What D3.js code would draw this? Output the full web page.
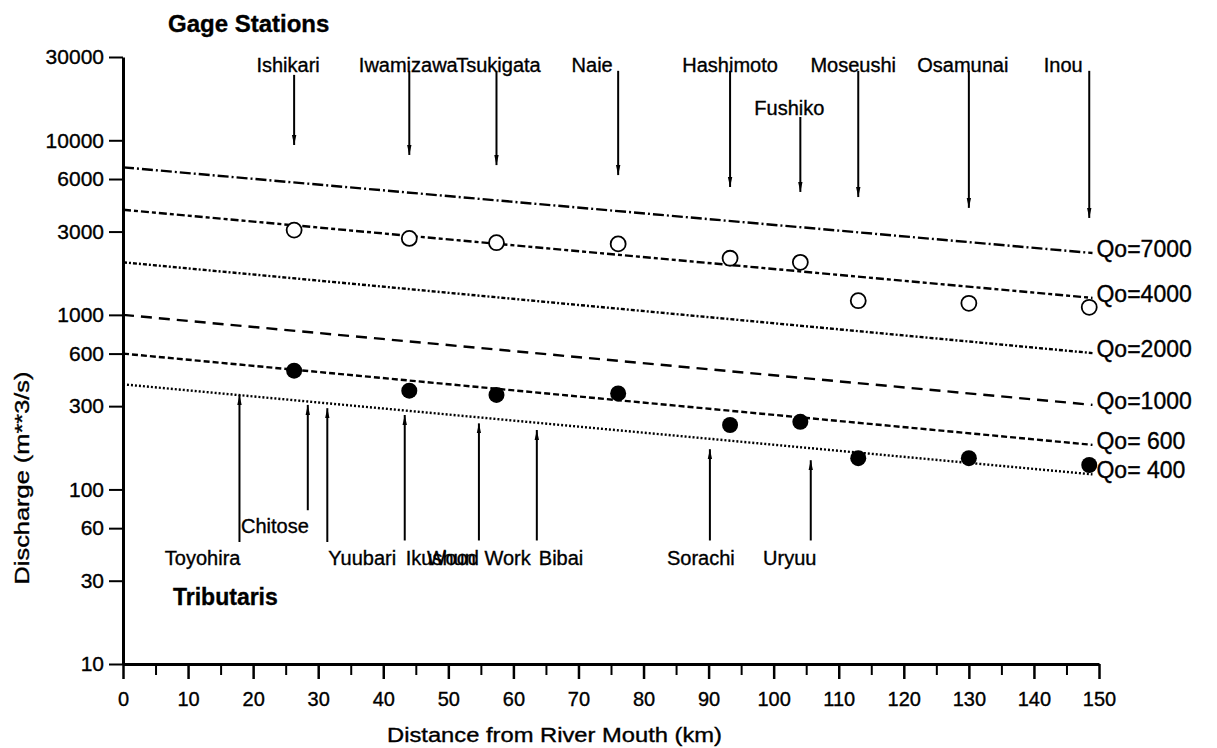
<!DOCTYPE html>
<html>
<head>
<meta charset="utf-8">
<script src="https://cdn.jsdelivr.net/npm/d3@7"></script>
<style>
body { margin: 0; background: #fff; }
text { font-family: "Liberation Sans", Arial, sans-serif; fill: #000; stroke: #000; stroke-width: 0.35px; }
</style>
</head>
<body>
<svg id="chart" width="1217" height="748"></svg>
<script>
// Qo curves: discharge at the mouth (0 km) and at the upstream end (149 km)
var qoNames = ["Qo=7000", "Qo=4000", "Qo=2000", "Qo=1000", "Qo= 600", "Qo= 400"];
var qoStart = [7000, 4000, 2000, 1000, 600, 400];
var qoEnd = [2260, 1250, 604, 305, 180, 122];
var qoKm = [0, 149];

// gage stations
var gageNames = ["Ishikari", "Iwamizawa", "Tsukigata", "Naie", "Hashimoto", "Fushiko", "Moseushi", "Osamunai", "Inou"];
var gageKm = [26.3, 44.0, 57.4, 76.1, 93.3, 104.1, 113.0, 130.0, 148.5];
var gageOpen = [3060, 2740, 2590, 2550, 2110, 2000, 1205, 1165, 1105];
var gageFilled = [479, 368, 348, 355, 234, 244, 151, 151, 138];
var gageArrowFrom = [23700, 25000, 25000, 25000, 25000, 13600, 25000, 25000, 25000];
var gageArrowTo = [9400, 8240, 7210, 6320, 5400, 5060, 4730, 4100, 3590];

// tributaries
var tribNames = ["Toyohira", "Chitose", "Yuubari", "Ikushun", "Wood Work", "Bibai", "Sorachi", "Uryuu"];
var tribKm = [17.9, 28.4, 31.4, 43.3, 54.7, 63.6, 90.2, 105.7];
var tribArrowFrom = [50, 76, 50, 51, 51, 51, 51, 51];
var tribArrowTo = [348, 305, 292, 267, 239, 219, 170, 147];

var yTicks = [10, 30, 60, 100, 300, 600, 1000, 3000, 6000, 10000, 30000];
var xTicks = d3.range(0, 151, 10);
var xMinorTicks = d3.range(5, 150, 10);

// styling / label placement
var qoDash = ["11,3,2,3", "8,3,4,3", "4,2,2,2", "11,7", "6,3", "2,2"];
var gageLabelDx = [-6, -1, 2, -26, 0, -11, -5, -6, -26];
var gageLabelY = [72, 72, 72, 72, 72, 115, 72, 72, 72];
var tribAnchor = ["end", "end", "start", "start", "middle", "start", "middle", "middle"];
var tribLabelDx = [1, 1, 1, 1, 0, 2, -9, -21];
var tribLabelY = [565, 533, 565, 565, 565, 565, 565, 565];

var svg = d3.select("#chart");

var x = d3.scaleLinear().domain([0, 150]).range([123, 1099]);
var y = d3.scaleLog().domain([10, 30000]).range([664, 57]);

var defs = svg.append("defs");
defs.append("marker")
    .attr("id", "head")
    .attr("viewBox", "0 -3 10 6")
    .attr("refX", 10)
    .attr("refY", 0)
    .attr("markerWidth", 10)
    .attr("markerHeight", 6)
    .attr("markerUnits", "userSpaceOnUse")
    .attr("orient", "auto")
    .append("path")
    .attr("d", "M0,-2.2L10,0L0,2.2Z")
    .attr("fill", "#000");

// y axis
var yAxis = svg.append("g")
    .attr("transform", "translate(" + x(0) + ",0)")
    .call(d3.axisLeft(y).tickValues(yTicks).tickFormat(d3.format("d")).tickSize(14).tickSizeOuter(0).tickPadding(5));
yAxis.select(".domain").attr("stroke-width", 3);
yAxis.selectAll(".tick line").attr("stroke-width", 2);
yAxis.selectAll(".tick text").attr("font-size", 21).attr("font-family", "Liberation Sans, Arial, sans-serif");

// x axis
var xAxis = svg.append("g")
    .attr("transform", "translate(0," + y(10) + ")")
    .call(d3.axisBottom(x).tickValues(xTicks).tickSize(15).tickSizeOuter(0).tickPadding(13));
xAxis.select(".domain").attr("stroke-width", 3);
xAxis.selectAll(".tick line").attr("stroke-width", 2.5);
xAxis.selectAll(".tick text").attr("font-size", 20).attr("font-family", "Liberation Sans, Arial, sans-serif");

svg.append("g")
    .attr("transform", "translate(0," + y(10) + ")")
    .call(d3.axisBottom(x).tickValues(xMinorTicks).tickSize(11).tickFormat(""))
    .call(g => g.select(".domain").remove())
    .selectAll(".tick line").attr("stroke-width", 2);

// axis titles
svg.append("text")
    .attr("x", 387).attr("y", 742)
    .attr("font-size", 20)
    .attr("textLength", 335).attr("lengthAdjust", "spacingAndGlyphs")
    .text("Distance from River Mouth (km)");

svg.append("text")
    .attr("transform", "translate(29,478) rotate(-90)")
    .attr("text-anchor", "middle")
    .attr("font-size", 20)
    .attr("textLength", 213).attr("lengthAdjust", "spacingAndGlyphs")
    .text("Discharge (m**3/s)");

svg.append("text")
    .attr("x", 168).attr("y", 32)
    .attr("font-size", 24).attr("font-weight", "bold")
    .text("Gage Stations");

svg.append("text")
    .attr("x", 173).attr("y", 605)
    .attr("font-size", 23).attr("font-weight", "bold")
    .text("Tributaris");

// Qo lines
var line = d3.line().x(d => x(d[0])).y(d => y(d[1]));
qoNames.forEach(function (name, i) {
    var pts = [[qoKm[0], qoStart[i]], [qoKm[1], qoEnd[i]]];
    svg.append("path")
        .attr("d", line(pts))
        .attr("fill", "none")
        .attr("stroke", "#000")
        .attr("stroke-width", 2.4)
        .attr("stroke-dasharray", qoDash[i]);
    svg.append("text")
        .attr("x", x(qoKm[1]) + 4)
        .attr("y", y(qoEnd[i]) + 4)
        .attr("font-size", 23)
        .attr("xml:space", "preserve")
        .text(name);
});

// gage station arrows + labels
gageNames.forEach(function (name, i) {
    svg.append("line")
        .attr("x1", x(gageKm[i])).attr("x2", x(gageKm[i]))
        .attr("y1", y(gageArrowFrom[i])).attr("y2", y(gageArrowTo[i]))
        .attr("stroke", "#000").attr("stroke-width", 2)
        .attr("marker-end", "url(#head)");
    svg.append("text")
        .attr("x", x(gageKm[i]) + gageLabelDx[i])
        .attr("y", gageLabelY[i])
        .attr("text-anchor", "middle")
        .attr("font-size", 20)
        .text(name);
});

// tributary arrows + labels
tribNames.forEach(function (name, i) {
    svg.append("line")
        .attr("x1", x(tribKm[i])).attr("x2", x(tribKm[i]))
        .attr("y1", y(tribArrowFrom[i])).attr("y2", y(tribArrowTo[i]))
        .attr("stroke", "#000").attr("stroke-width", 2)
        .attr("marker-end", "url(#head)");
    svg.append("text")
        .attr("x", x(tribKm[i]) + tribLabelDx[i])
        .attr("y", tribLabelY[i])
        .attr("text-anchor", tribAnchor[i])
        .attr("font-size", 20)
        .text(name);
});

// observed discharges
svg.append("g").selectAll("circle")
    .data(gageKm)
    .enter().append("circle")
    .attr("cx", d => x(d))
    .attr("cy", (d, i) => y(gageOpen[i]))
    .attr("r", 7.5)
    .attr("fill", "#fff")
    .attr("stroke", "#000")
    .attr("stroke-width", 1.8);

svg.append("g").selectAll("circle")
    .data(gageKm)
    .enter().append("circle")
    .attr("cx", d => x(d))
    .attr("cy", (d, i) => y(gageFilled[i]))
    .attr("r", 8)
    .attr("fill", "#000");
</script>
</body>
</html>
